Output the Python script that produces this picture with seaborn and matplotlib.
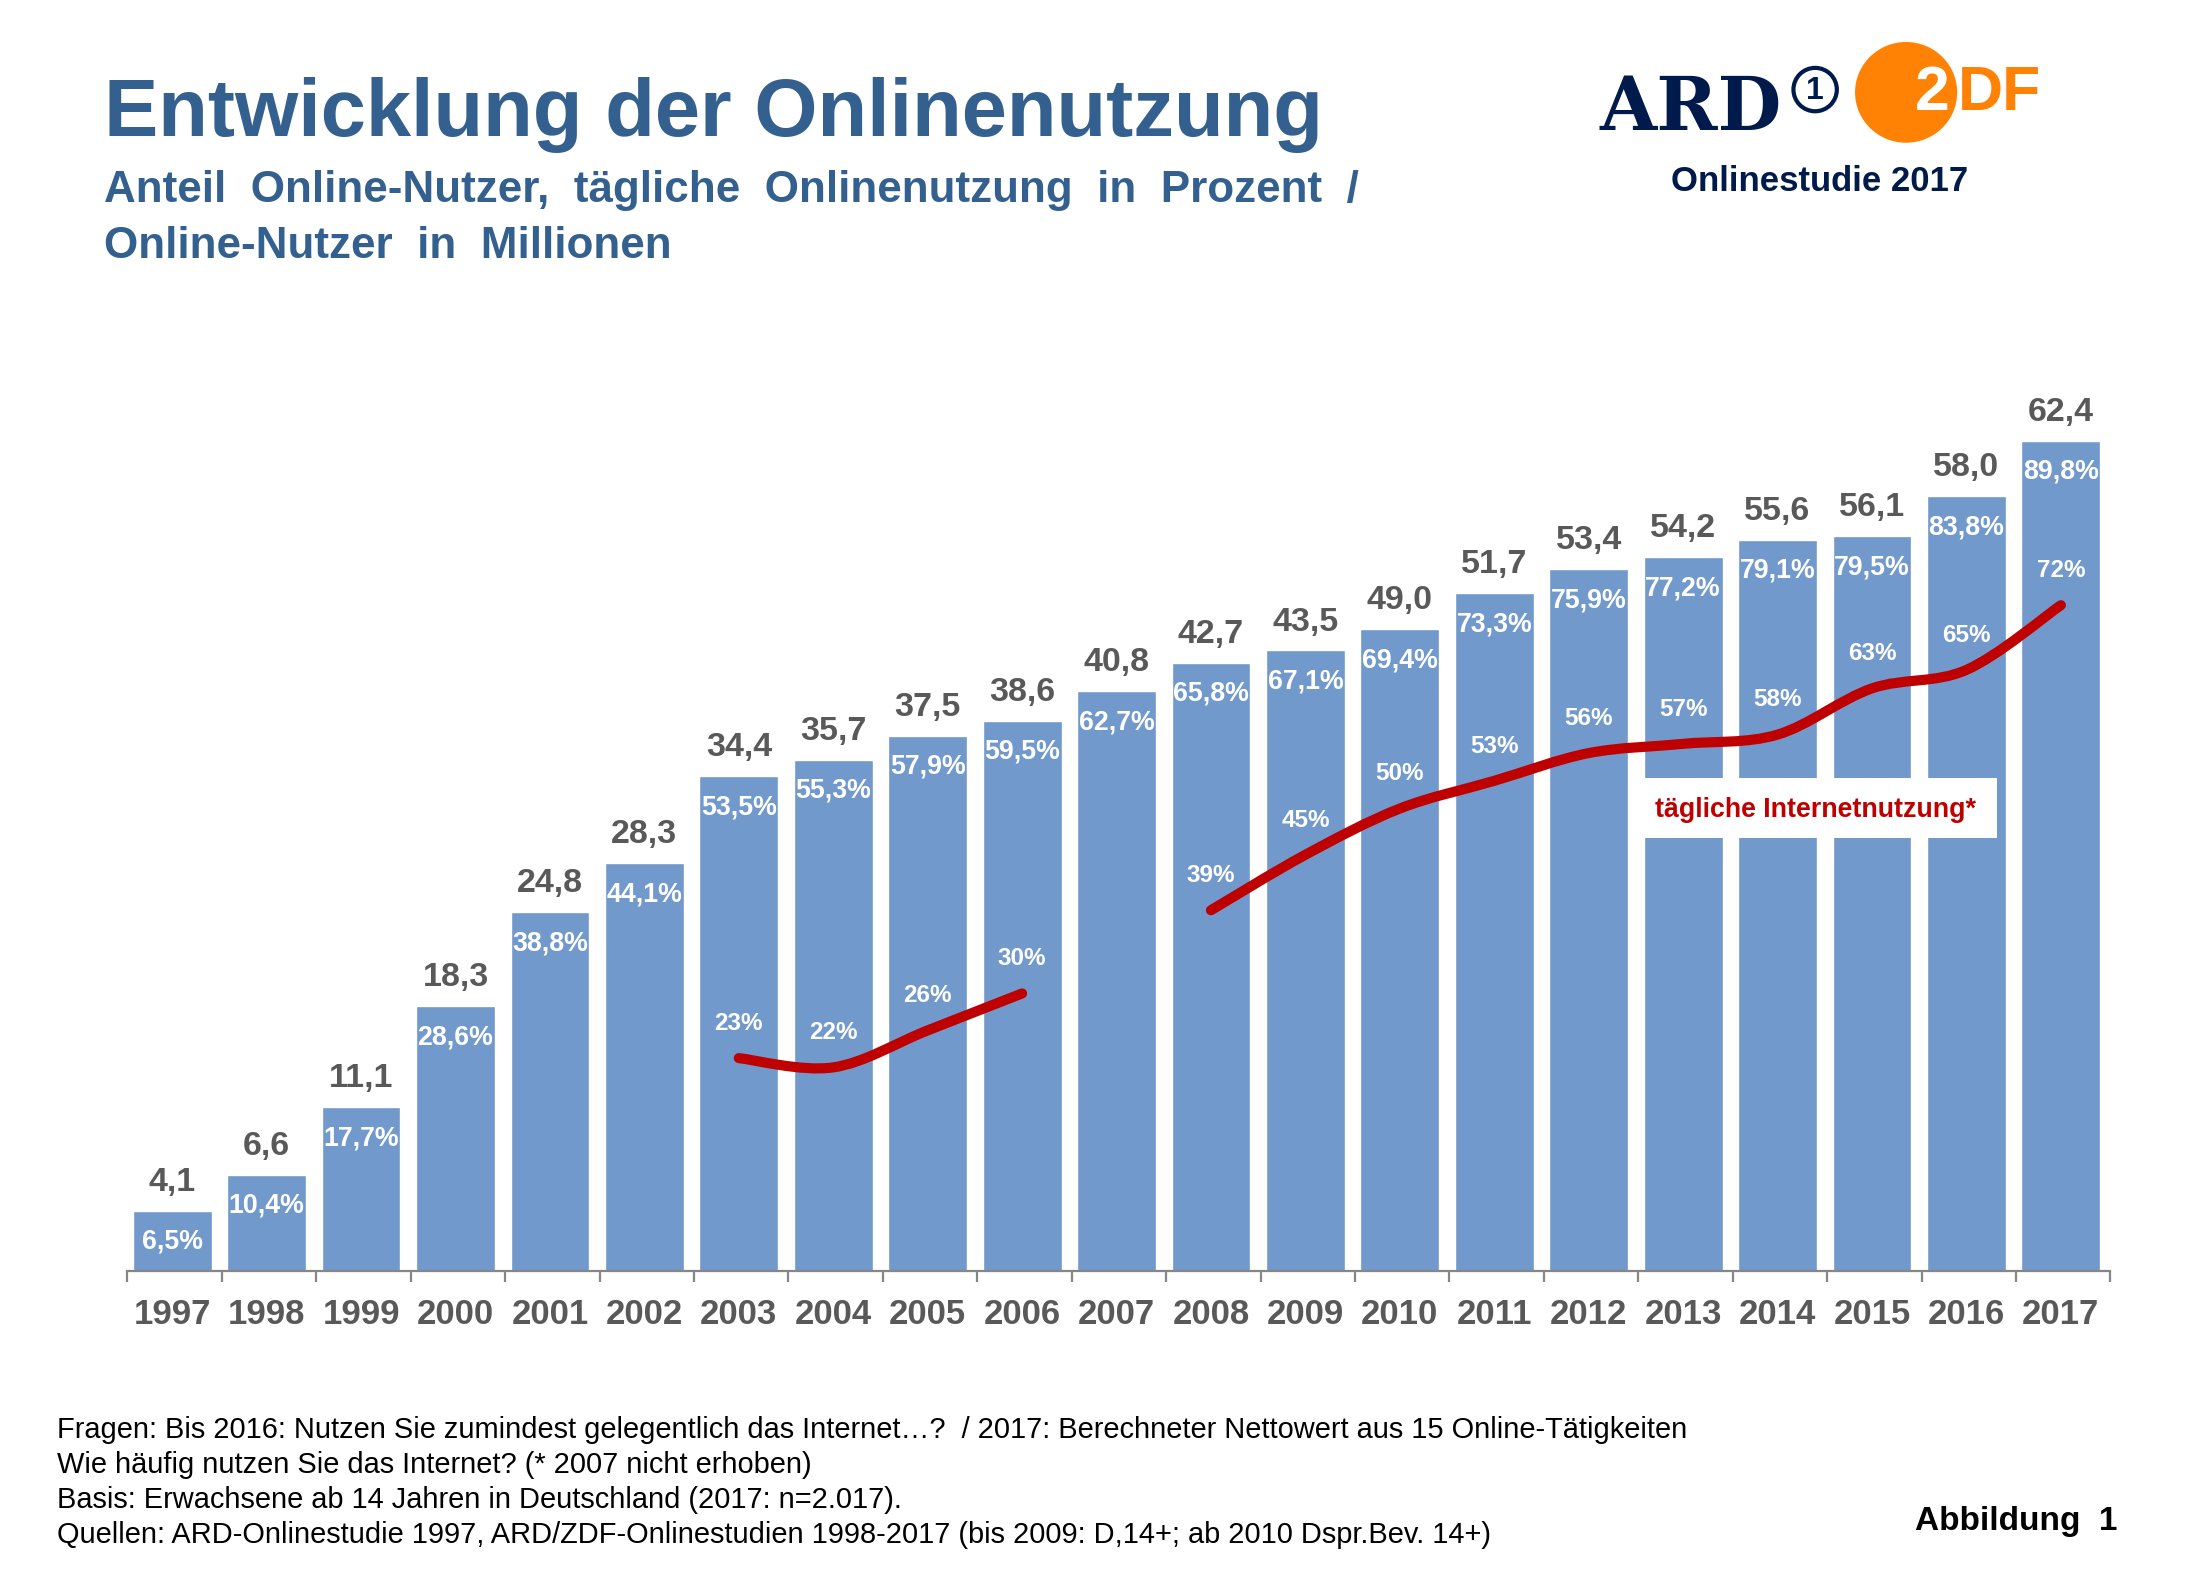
import numpy as np
import pandas as pd
import matplotlib
matplotlib.use("Agg")
import matplotlib.pyplot as plt
import matplotlib.patheffects as pe
from matplotlib.path import Path
from matplotlib.patches import Rectangle, Ellipse
import seaborn as sns

years = [str(y) for y in range(1997, 2018)]
users_mio = [4.1, 6.6, 11.1, 18.3, 24.8, 28.3, 34.4, 35.7, 37.5, 38.6, 40.8,
             42.7, 43.5, 49.0, 51.7, 53.4, 54.2, 55.6, 56.1, 58.0, 62.4]
share_pct = [6.5, 10.4, 17.7, 28.6, 38.8, 44.1, 53.5, 55.3, 57.9, 59.5, 62.7,
             65.8, 67.1, 69.4, 73.3, 75.9, 77.2, 79.1, 79.5, 83.8, 89.8]
daily_years_a = ["2003", "2004", "2005", "2006"]
daily_pct_a = [23, 22, 26, 30]
daily_years_b = ["2008", "2009", "2010", "2011", "2012", "2013", "2014", "2015", "2016", "2017"]
daily_pct_b = [39, 45, 50, 53, 56, 57, 58, 63, 65, 72]
footnotes = [
    "Fragen: Bis 2016: Nutzen Sie zumindest gelegentlich das Internet\u2026?  / 2017: Berechneter Nettowert aus 15 Online-Tätigkeiten",
    "Wie häufig nutzen Sie das Internet? (* 2007 nicht erhoben)",
    "Basis: Erwachsene ab 14 Jahren in Deutschland (2017: n=2.017).",
    "Quellen: ARD-Onlinestudie 1997, ARD/ZDF-Onlinestudien 1998-2017 (bis 2009: D,14+; ab 2010 Dspr.Bev. 14+)",
]

W, H = 2193, 1593
S = W / 1567.0
BLUE = "#7299CC"; TITLE = "#33608F"; GREY = "#595959"; RED = "#BE0000"; NAVY = "#001A4B"; ORANGE = "#FF8205"

sns.set_theme(style="white")
SANS = ["Liberation Sans", "DejaVu Sans"]
plt.rcParams["font.family"] = SANS

fig = plt.figure(figsize=(W / 100, H / 100), dpi=100, facecolor="white")
left, right, base = 91 * S, 1508 * S, 908 * S
ax_h = 6.605 * S * 100
ax = fig.add_axes([left / W, 1 - base / H, (right - left) / W, ax_h / H])
ax.patch.set_alpha(0)

df = pd.DataFrame({"year": years, "share": share_pct})
sns.barplot(data=df, x="year", y="share", color=BLUE, saturation=1, width=0.835, ax=ax, errorbar=None)
pos = {y: i for i, y in enumerate(years)}


class Smooth(pe.AbstractPathEffect):
    """Render the line through its own points as a smooth spline."""
    def draw_path(self, renderer, gc, tpath, affine, rgbFace=None):
        v = tpath.vertices
        n = len(v)
        verts = [v[0]]
        for i in range(n - 1):
            p0 = v[max(i - 1, 0)]; p1 = v[i]; p2 = v[i + 1]; p3 = v[min(i + 2, n - 1)]
            verts += [p1 + (p2 - p0) / 6.0, p2 - (p3 - p1) / 6.0, p2]
        codes = [Path.MOVETO] + [Path.CURVE4] * (3 * (n - 1))
        renderer.draw_path(gc, Path(np.array(verts), codes), affine, None)


for ys, vals in ((daily_years_a, daily_pct_a), (daily_years_b, daily_pct_b)):
    d = pd.DataFrame({"x": [pos[y] for y in ys], "v": vals})
    sns.lineplot(data=d, x="x", y="v", color=RED, linewidth=7.3, errorbar=None, ax=ax,
                 solid_capstyle="round", solid_joinstyle="round", zorder=4)
    ax.lines[-1].set_path_effects([Smooth()])
    for x, v in zip(d["x"], d["v"]):
        ax.annotate(f"{v}%", (x, v), xytext=(0, 25), textcoords="offset points", ha="center", va="center",
                    color="white", fontsize=17.5, fontweight="bold", zorder=5)

for i, (m, p) in enumerate(zip(users_mio, share_pct)):
    ax.annotate(f"{m:.1f}".replace(".", ","), (i, p), xytext=(0, 20.5), textcoords="offset points",
                ha="center", va="center", color=GREY, fontsize=24.5, fontweight="bold", annotation_clip=False)
    ax.annotate(f"{p:.1f}".replace(".", ",") + "%", (i, p), xytext=(0, -22.5), textcoords="offset points",
                ha="center", va="center", color="white", fontsize=19.3, fontweight="bold", zorder=5)

ax.set_xlim(-0.475, 20.525)
ax.set_ylim(0, 100)
ax.set_xlabel(""); ax.set_ylabel("")
ax.set_yticks([])
for s in ("top", "left", "right"):
    ax.spines[s].set_visible(False)
ax.spines["bottom"].set_color("#868686")
ax.spines["bottom"].set_linewidth(1.6)
ax.set_xticks(np.arange(21))
ax.set_xticklabels(years, fontsize=25, fontweight="bold", color=GREY)
ax.set_xticks(np.arange(22) - 0.475, minor=True)
ax.tick_params(axis="x", which="major", length=0, pad=19.5, bottom=True)
ax.tick_params(axis="x", which="minor", length=8, width=1.6, color="#868686", bottom=True)


def px(x, y):
    return x * S / W, 1 - y * S / H


def ftext(x, y, s, **kw):
    kw.setdefault("va", "center")
    return fig.text(*px(x, y), s, **kw)


def fpatch(p):
    p.set_transform(fig.transFigure)
    p.set_zorder(2)
    fig.add_artist(p)


# legend box
x0, y0 = px(1175, 599)
x1, y1 = px(1427, 556)
fpatch(Rectangle((x0, y0), x1 - x0, y1 - y0, facecolor="white", edgecolor="none"))
ftext(1297, 579, "tägliche Internetnutzung*", ha="center", color=RED, fontsize=19.3, fontweight="bold", zorder=3)

# titles
ftext(74, 82, "Entwicklung der Onlinenutzung", color=TITLE, fontsize=58.6, fontweight="bold")
ftext(74, 136, "Anteil  Online-Nutzer,  tägliche  Onlinenutzung  in  Prozent  /", color=TITLE, fontsize=31.7, fontweight="bold")
ftext(74, 176, "Online-Nutzer  in  Millionen", color=TITLE, fontsize=31.7, fontweight="bold")

# logos
ftext(1143, 78, "ARD", color=NAVY, fontsize=53, fontweight="bold", family=["DejaVu Serif"])
cx, cy = px(1297, 64)
fpatch(Ellipse((cx, cy), 31 * S / W, 31 * S / H, facecolor="white", edgecolor=NAVY, linewidth=3))
ftext(1297, 65, "1", ha="center", color=NAVY, fontsize=23, fontweight="bold", zorder=3)
cx, cy = px(1362, 66)
fpatch(Ellipse((cx, cy), 73 * S / W, 72 * S / H, facecolor=ORANGE, edgecolor="none"))
ftext(1368, 67, "2", color="white", fontsize=45, fontweight="bold", zorder=3)
ftext(1399, 67, "DF", color=ORANGE, fontsize=45, fontweight="bold", zorder=3)
ftext(1300, 130, "Onlinestudie 2017", ha="center", color=NAVY, fontsize=25, fontweight="bold")

# footnotes
for y, line in zip((1022, 1047, 1072, 1097), footnotes):
    ftext(41, y, line, color="black", fontsize=20.9)
ftext(1513, 1087, "Abbildung  1", ha="right", color="black", fontsize=24, fontweight="bold")

fig.savefig("out.png", dpi=100, facecolor="white")
